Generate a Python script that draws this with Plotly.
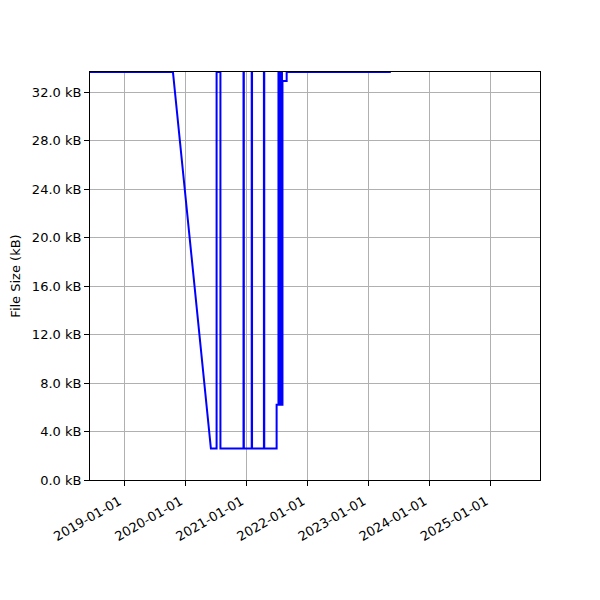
import plotly.graph_objects as go

dates = [
    "2018-06-10", "2019-10-19", "2020-06-02",
    "2020-07-06", "2020-07-06", "2020-07-29", "2020-07-29",
    "2020-12-14", "2020-12-14", "2020-12-16", "2020-12-16",
    "2021-02-01", "2021-02-01", "2021-02-03", "2021-02-03",
    "2021-04-15", "2021-04-15", "2021-04-17", "2021-04-17",
    "2021-06-30", "2021-06-30",
    "2021-07-11", "2021-07-11", "2021-07-14", "2021-07-14",
    "2021-07-17", "2021-07-17", "2021-07-20", "2021-07-20",
    "2021-07-23", "2021-07-23", "2021-07-26", "2021-07-26",
    "2021-07-29", "2021-07-29", "2021-08-01", "2021-08-01",
    "2021-08-04", "2021-08-04", "2021-08-29", "2021-08-29",
    "2023-05-14",
]
size_kb = [
    33.65, 33.65, 2.6,
    2.6, 33.65, 33.65, 2.6,
    2.6, 33.65, 33.65, 2.6,
    2.6, 33.65, 33.65, 2.6,
    2.6, 33.65, 33.65, 2.6,
    2.6, 6.2,
    6.2, 33.65, 33.65, 6.2,
    6.2, 33.65, 33.65, 6.2,
    6.2, 33.65, 33.65, 6.2,
    6.2, 33.65, 33.65, 6.2,
    6.2, 32.9, 32.9, 33.65,
    33.65,
]

y_ticks = [0, 4, 8, 12, 16, 20, 24, 28, 32]
y_tick_labels = [f"{v:.1f} kB" for v in y_ticks]
x_ticks = ["2019-01-01", "2020-01-01", "2021-01-01", "2022-01-01",
           "2023-01-01", "2024-01-01", "2025-01-01"]
x_range = ["2018-06-10", "2025-10-22"]
y_range = [0, 33.65]

fig = go.Figure()
fig.add_trace(go.Scatter(x=dates, y=size_kb, mode="lines",
                         line=dict(color="#0000ff", width=2),
                         showlegend=False))

axis_common = dict(
    showline=True, linecolor="black", linewidth=1, mirror=True,
    showgrid=True, gridcolor="#b0b0b0", gridwidth=1,
    ticks="outside", ticklen=5, tickcolor="black", tickwidth=1,
    zeroline=False, automargin=False,
    tickfont=dict(family="DejaVu Sans", size=13, color="black"),
)

fig.update_layout(
    width=600, height=600,
    margin=dict(l=82, r=68, t=64, b=128),
    paper_bgcolor="white", plot_bgcolor="white",
    xaxis=dict(range=x_range, tickvals=x_ticks, ticktext=x_ticks,
               tickangle=-30, ticklabelshift=-5, ticklabelstandoff=3,
               **axis_common),
    yaxis=dict(range=y_range, tickvals=y_ticks, ticktext=y_tick_labels,
               title=dict(text="File Size (kB)",
                          font=dict(family="DejaVu Sans", size=13, color="black"),
                          standoff=8),
               **axis_common),
)

fig.write_html("out.html")
